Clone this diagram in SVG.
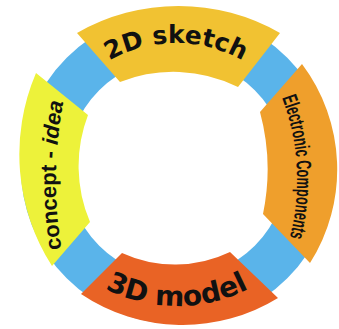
<svg xmlns="http://www.w3.org/2000/svg" width="339" height="329" viewBox="0 0 339 329">
<style>
.seg{stroke:none}
.lbl{font-family:"DejaVu Sans","Liberation Sans",sans-serif;font-weight:bold;fill:#111}
.lbl2{font-family:"Liberation Sans","DejaVu Sans",sans-serif;font-weight:bold;fill:#111}
.narrow{font-family:"Liberation Sans Narrow","Liberation Sans",sans-serif;font-weight:bold;fill:#111}
</style>
<defs>
<path id="p-top" d="M41,178 A135,135 0 0 1 311,178"/>
<path id="p-bot" d="M20,149 A157,157 0 0 0 334,149"/>
<path id="p-right" d="M234.1,21.1 A232,232 0 0 1 250.8,319"/>
<path id="p-left" d="M87.2,341.3 A428,428 0 0 1 87.2,20.7"/>
</defs>
<rect width="339" height="329" fill="#ffffff"/>
<g id="connectors">
<circle cx="177" cy="168" r="133" fill="none" stroke="#5ab4ea" stroke-width="46"/>
</g>
<g id="sketch2d">
<path class="seg" fill="#f1c232" d="M77,33 A204,204 0 0 1 280,33 L238,87 A145,145 0 0 0 120,82 Z"/>
<text class="lbl" font-size="25" text-anchor="middle"><textPath href="#p-top" startOffset="50%">2D sketch</textPath></text>
</g>
<g id="electronic">
<path class="seg" fill="#ef9f2c" d="M302,64 A175,175 0 0 1 310,263 L263,214 A220,220 0 0 0 260,112 Z"/>
<text class="narrow" font-size="21"><textPath href="#p-right" startOffset="91" textLength="142" lengthAdjust="spacingAndGlyphs">Electronic Components</textPath></text>
</g>
<g id="model3d">
<path class="seg" fill="#e96325" d="M81,294 A182,182 0 0 0 278,298 L230,252 A127,127 0 0 1 122,253 Z"/>
<text class="lbl" font-size="28" text-anchor="middle"><textPath href="#p-bot" startOffset="50%">3D model</textPath></text>
</g>
<g id="concept">
<path class="seg" fill="#edf23a" d="M36,73 L88,115 A143,143 0 0 0 90,222 L52,266 A207,207 0 0 1 36,73 Z"/>
<text class="lbl2" font-size="22" text-anchor="middle"><textPath href="#p-left" startOffset="170">concept - <tspan font-style="italic">idea</tspan></textPath></text>
</g>
</svg>
